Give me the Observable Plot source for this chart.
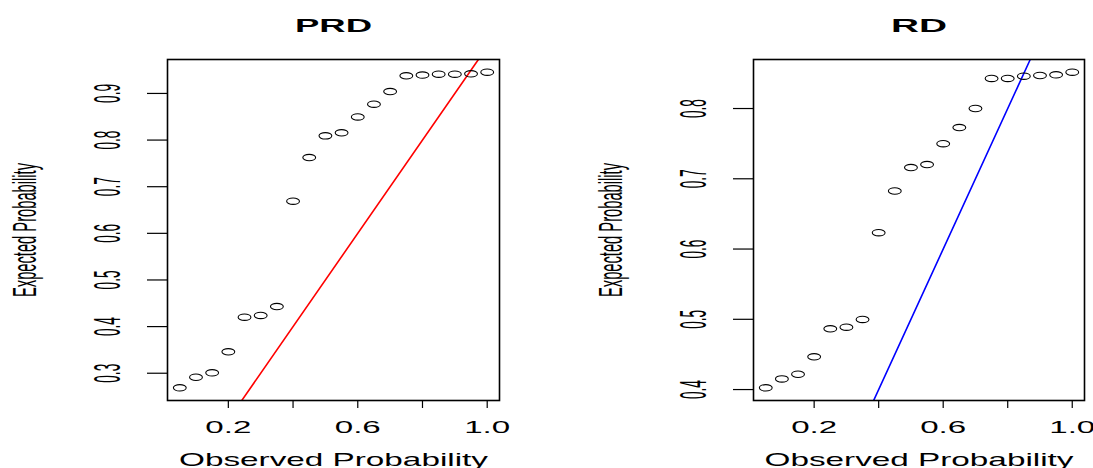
<!DOCTYPE html>
<html><head><meta charset="utf-8">
<script src="https://cdn.jsdelivr.net/npm/d3@7"></script>
<script src="https://cdn.jsdelivr.net/npm/@observablehq/plot@0.6"></script>
<style>
body{margin:0;background:#fff;}
#wrap{display:flex;width:1093px;height:468px;overflow:hidden;background:#fff;}
svg{display:block;}
</style></head><body><div id="wrap"></div>
<script>
// ---- data ----
const observed = [0.05,0.10,0.15,0.20,0.25,0.30,0.35,0.40,0.45,0.50,0.55,0.60,0.65,0.70,0.75,0.80,0.85,0.90,0.95,1.00];
const expectedPRD = [0.2686,0.2914,0.3008,0.3460,0.4203,0.4240,0.4430,0.6690,0.7625,0.8090,0.8155,0.8497,0.8770,0.9040,0.9378,0.9393,0.9414,0.9414,0.9420,0.9457];
const expectedRD = [0.4024,0.4152,0.4218,0.4466,0.4865,0.4888,0.4998,0.6233,0.6826,0.7160,0.7202,0.7500,0.7729,0.8000,0.8428,0.8428,0.8461,0.8470,0.8479,0.8518];
const titles = ["PRD", "RD"];
const xTicks = [0.2,0.4,0.6,0.8,1.0];
const xTickLabels = [0.2,0.6,1.0];
const yTicksPRD = [0.3,0.4,0.5,0.6,0.7,0.8,0.9];
const yTicksRD = [0.4,0.5,0.6,0.7,0.8];
const xLabel = "Observed Probability";
const yLabel = "Expected Probability";

// ---- layout / style ----
const panels = [
  {title: titles[0], expected: expectedPRD, yTicks: yTicksPRD, color: "#FF0000", width: 546, marginLeft: 167, marginRight: 47, titleLen: 77},
  {title: titles[1], expected: expectedRD, yTicks: yTicksRD, color: "#0000FF", width: 547, marginLeft: 207, marginRight: 9, titleLen: 56}
];

// R-style axis limits: data range extended by 4% on each side
function rLim(v) {
  const [a, b] = d3.extent(v);
  const p = (b - a) * 0.04;
  return [a - p, b + p];
}

// ellipse symbol (R open circle, stretched horizontally as in the reference)
const ellipse = {
  draw(ctx, size) {
    const r = Math.sqrt(size / Math.PI);
    const rx = r * 2.0, ry = r, k = 0.5523;
    ctx.moveTo(rx, 0);
    ctx.bezierCurveTo(rx, k * ry, k * rx, ry, 0, ry);
    ctx.bezierCurveTo(-k * rx, ry, -rx, k * ry, -rx, 0);
    ctx.bezierCurveTo(-rx, -k * ry, -k * rx, -ry, 0, -ry);
    ctx.bezierCurveTo(k * rx, -ry, rx, -k * ry, rx, 0);
    ctx.closePath();
  }
};

const wrap = document.getElementById("wrap");
const font = "Liberation Sans, Arial, sans-serif";

for (const p of panels) {
  const rows = observed.map((x, i) => ({x, y: p.expected[i]}));
  const xd = rLim(observed);
  const yd = rLim(p.expected);
  const svg = Plot.plot({
    width: p.width,
    height: 468,
    marginTop: 59,
    marginBottom: 68,
    marginLeft: p.marginLeft,
    marginRight: p.marginRight,
    style: {fontFamily: font, background: "#fff", color: "#000", overflow: "visible"},
    x: {domain: xd, label: null},
    y: {domain: yd, label: null},
    marks: [
      Plot.line(xd.concat(yd).sort(d3.ascending).map(v => [v, v]), {x: d => d[0], y: d => d[1], stroke: p.color, strokeWidth: 1.6, clip: true}),
      Plot.dot(rows, {x: "x", y: "y", symbol: ellipse, r: 3.2, stroke: "#000", strokeWidth: 1.1, fill: "none"}),
      Plot.frame({stroke: "#000", strokeWidth: 1.6}),
      Plot.axisX(xTicks, {tickSize: 8, tickFormat: () => "", stroke: "#000", strokeWidth: 1.2}),
      Plot.axisY(p.yTicks, {tickSize: 20, tickFormat: () => "", stroke: "#000", strokeWidth: 1.2}),
      Plot.text(xTickLabels, {x: d => d, frameAnchor: "bottom", lineAnchor: "bottom", dy: 32.5, text: d => d.toFixed(1), fontSize: 16, fill: "#000"}),
      Plot.text(p.yTicks, {y: d => d, frameAnchor: "left", lineAnchor: "middle", rotate: -90, textAnchor: "middle", dx: -59.5, text: d => d.toFixed(1), fontSize: 36, fill: "#000"}),
      Plot.text([xLabel], {frameAnchor: "bottom", lineAnchor: "bottom", dy: 65, text: d => d, fontSize: 19, fill: "#000"}),
      Plot.text([yLabel], {frameAnchor: "left", lineAnchor: "middle", rotate: -90, textAnchor: "middle", dx: -142, text: d => d, fontSize: 33, fill: "#000"}),
      Plot.text([p.title], {frameAnchor: "top", lineAnchor: "bottom", dy: -28, text: d => d, fontSize: 18, fontWeight: "bold", fill: "#000"})
    ]
  });
  // stretch glyphs like the reference (text set to a given length)
  d3.select(svg).selectAll("text").each(function() {
    const t = this.textContent.trim();
    if (!t) return;
    const rotated = /rotate/.test(this.getAttribute("transform") || "");
    let len = null;
    if (t === p.title) len = p.titleLen;
    else if (t === xLabel) len = 309;
    else if (t === yLabel) len = 134;
    else if (rotated) len = 19;
    else if (/^\d\.\d$/.test(t)) len = 46;
    if (len) this.setAttribute("textLength", len), this.setAttribute("lengthAdjust", "spacingAndGlyphs");
  });
  wrap.appendChild(svg);
}
</script>
</body></html>
